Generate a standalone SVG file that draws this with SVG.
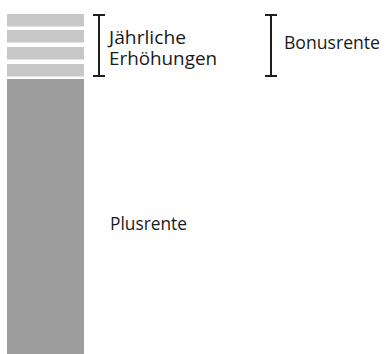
<svg xmlns="http://www.w3.org/2000/svg" width="385" height="354" viewBox="0 0 385 354">
<style>
.light{fill:#c6c7c6}
.dark{fill:#9d9d9d}
.br{stroke:#1e1e1e;stroke-width:2;fill:none}
text{font-family:"Open Sans","Liberation Sans",sans-serif;font-size:18px;fill:#1a1a1a}
</style>
<rect width="385" height="354" fill="#ffffff"/>
<g id="bars">
<rect class="light" x="7" y="14" width="77" height="12.5"/>
<rect class="light" x="7" y="30" width="77" height="12.5"/>
<rect class="light" x="7" y="47" width="77" height="12.5"/>
<rect class="light" x="7" y="64" width="77" height="12.5"/>
<rect class="dark" x="7" y="79" width="77" height="275"/>
</g>
<g id="connectors">
<path class="br" d="M93 15H105M99 15V76M93 76H105"/>
<path class="br" d="M265 15H277M271 15V76M265 76H277"/>
</g>
<g id="label-erhoehungen">
<text x="109" y="44" textLength="77" lengthAdjust="spacingAndGlyphs">Jährliche</text>
<text x="109" y="64.5" textLength="108" lengthAdjust="spacingAndGlyphs">Erhöhungen</text>
</g>
<g id="label-bonusrente"><text x="284" y="49" textLength="96" lengthAdjust="spacingAndGlyphs">Bonusrente</text></g>
<g id="label-plusrente"><text x="110" y="230" textLength="77" lengthAdjust="spacingAndGlyphs">Plusrente</text></g>
</svg>
